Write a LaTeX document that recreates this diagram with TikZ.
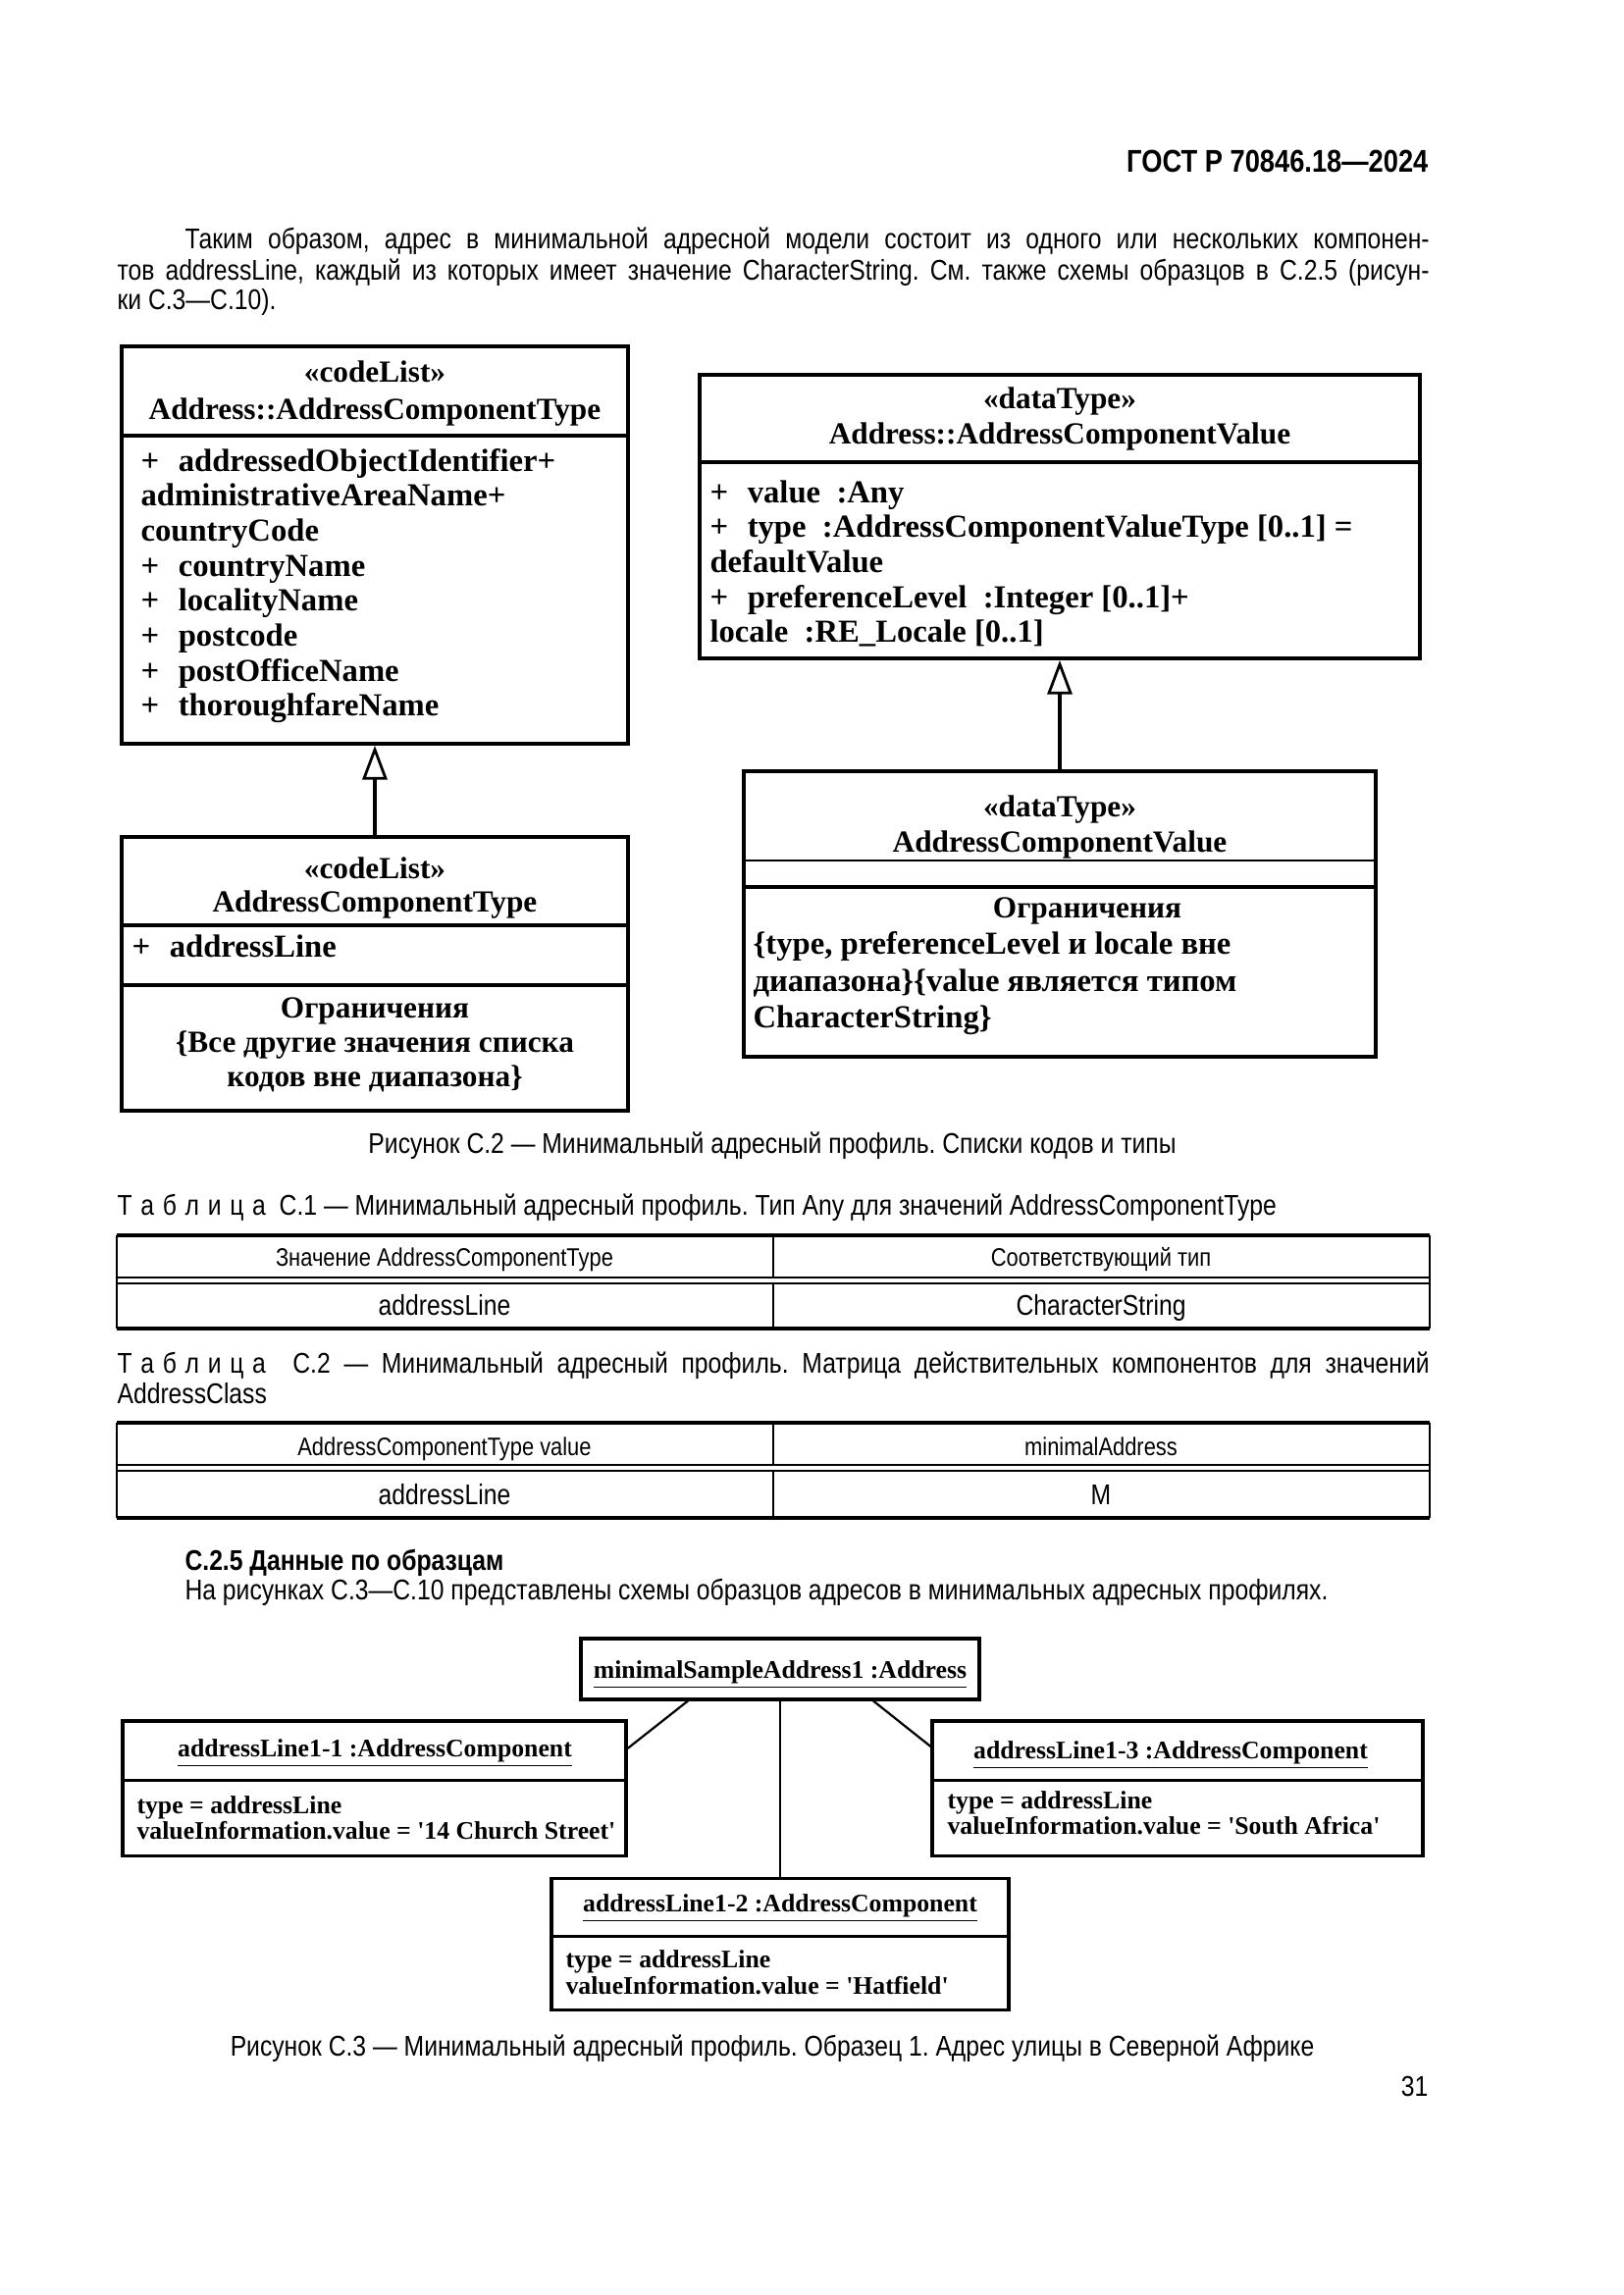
\documentclass[tikz,border=0pt]{standalone}
\usepackage{fontspec}
\setmainfont{Liberation Sans}
\newfontfamily\sansn[FakeStretch=0.85]{Liberation Sans}
\newfontfamily\umlf{Liberation Serif}
\usetikzlibrary{arrows.meta,fit}
\newcommand\ls{\kern.3em}
\frenchspacing
\begin{document}
\begin{tikzpicture}[x=0.12697mm,y=-0.12697mm,
  body/.style={inner sep=0,font=\sansn\fontsize{10.5}{11}\selectfont},
  small/.style={inner sep=0,font=\sansn\fontsize{9.3}{10}\selectfont},
  uml/.style={inner sep=0,font=\umlf\bfseries\fontsize{11.3}{12.9}\selectfont},
  umlattr/.style={inner sep=0,font=\umlf\bfseries\fontsize{11.8}{12.9}\selectfont},
  obj/.style={inner sep=0,font=\umlf\bfseries\fontsize{9.3}{9.3}\selectfont},
  bigbox/.style={draw,line width=1.4pt,inner sep=0},
  objbox/.style={draw,line width=1.1pt,inner sep=0},
  sep/.style={line width=1.1pt},
  gen/.style={line width=1.4pt,-{Triangle[open,length=4.4mm,width=3.2mm,line width=1pt]}},
  assoc/.style={line width=0.8pt},
  thickrule/.style={line width=1.1pt},
  thinrule/.style={line width=0.5pt}]
\useasboundingbox (0,0) rectangle (1654,2339);
\fill[white] (0,0) rectangle (1654,2339);

% header and paragraph
\node[body,anchor=base east,font=\sansn\bfseries\fontsize{11.6}{12}\selectfont] (hdr) at (1456,175) {ГОСТ Р 70846.18—2024};
\node[body,anchor=base west] (p1) at (188,254) {\makebox[161mm][s]{Таким образом, адрес в минимальной адресной модели состоит из одного или нескольких компонен-}};
\node[body,anchor=base west] (p2) at (119,285) {\makebox[169.76mm][s]{тов addressLine, каждый из которых имеет значение CharacterString. См. также схемы образцов в С.2.5 (рисун-}};
\node[body,anchor=base west] (p3) at (119,315) {ки С.3—С.10).};

% box 1
\node[bigbox,fit={(124,353) (640,758)}] (b1) {};
\draw[sep] (b1.west |- 0,444) -- (b1.east |- 0,444);
\node[uml,anchor=base] (b1s) at (382,389) {«codeList»};
\node[uml,anchor=base] (b1n) at (382,427) {Address::AddressComponentType};
\foreach \t [count=\i] in {{+\hspace{0.6em}addressedObjectIdentifier+},{administrativeAreaName+},{countryCode},{+\hspace{0.6em}countryName},{+\hspace{0.6em}localityName},{+\hspace{0.6em}postcode},{+\hspace{0.6em}postOfficeName},{+\hspace{0.6em}thoroughfareName}}
  \node[umlattr,anchor=base west] (b1a\i) at (143,{480+35.7*(\i-1)}) {\t};

% box 2
\node[bigbox,fit={(713,382) (1447,671)}] (b2) {};
\draw[sep] (b2.west |- 0,471) -- (b2.east |- 0,471);
\node[uml,anchor=base] (b2s) at (1080,416) {«dataType»};
\node[uml,anchor=base] (b2n) at (1080,452) {Address::AddressComponentValue};
\foreach \t [count=\i] in {{+\hspace{0.6em}value\ \ :Any},{+\hspace{0.6em}type\ \ :AddressComponentValueType [0..1] =},{defaultValue},{+\hspace{0.6em}preferenceLevel\ \ :Integer [0..1]+},{locale\ \ :RE\_Locale [0..1]}}
  \node[umlattr,anchor=base west] (b2a\i) at (723,{512+35.7*(\i-1)}) {\t};

% box 3
\node[bigbox,fit={(124,853) (640,1132)}] (b3) {};
\draw[sep] (b3.west |- 0,943) -- (b3.east |- 0,943);
\draw[sep] (b3.west |- 0,1004) -- (b3.east |- 0,1004);
\node[uml,anchor=base] (b3s) at (382,895) {«codeList»};
\node[uml,anchor=base] (b3n) at (382,929) {AddressComponentType};
\node[umlattr,anchor=base west] (b3a) at (134,975) {+\hspace{0.6em}addressLine};
\node[uml,anchor=base] (b3c1) at (382,1037) {Ограничения};
\node[uml,anchor=base] (b3c2) at (382,1072) {\{Все другие значения списка};
\node[uml,anchor=base] (b3c3) at (382,1107) {кодов вне диапазона\}};

% box 4
\node[bigbox,line width=1.1pt,fit={(758,786) (1402,1077)}] (b4) {};
\draw[line width=0.8pt] (b4.west |- 0,877) -- (b4.east |- 0,877);
\draw[line width=1.4pt] (b4.west |- 0,904) -- (b4.east |- 0,904);
\node[uml,anchor=base] (b4s) at (1080,832) {«dataType»};
\node[uml,anchor=base] (b4n) at (1080,868) {AddressComponentValue};
\node[uml,anchor=base] (b4c1) at (1108,935) {Ограничения};
\node[umlattr,anchor=base west] (b4c2) at (767,972) {\{type, preferenceLevel и locale вне};
\node[umlattr,anchor=base west] (b4c3) at (767,1010) {диапазона\}\{value является типом};
\node[umlattr,anchor=base west] (b4c4) at (767,1047) {CharacterString\}};

% generalizations
\draw[gen] (b3.north) -- (b1.south);
\draw[gen,line width=1.1pt] (b4.north) -- (b2.south);

\node[body,anchor=base] (cap2) at (787,1175) {Рисунок С.2 — Минимальный адресный профиль. Списки кодов и типы};

% table C.1
\node[body,anchor=base west] (t1t) at (119,1238) {Т\ls а\ls б\ls л\ls и\ls ц\ls а\ \ С.1 — Минимальный адресный профиль. Тип Any для значений AddressComponentType};
\draw[thickrule] (119,1259) -- (1457,1259);
\draw[thinrule] (119,1302) -- (1457,1302);
\draw[thinrule] (119,1308) -- (1457,1308);
\draw[thickrule] (119,1354) -- (1457,1354);
\draw[thinrule] (119,1259) -- (119,1354);
\draw[thinrule] (1457,1259) -- (1457,1354);
\draw[thinrule] (788,1259) -- (788,1302);
\draw[thinrule] (788,1308) -- (788,1354);
\node[small,anchor=base] (t1h1) at (453,1290) {Значение AddressComponentType};
\node[small,anchor=base] (t1h2) at (1122,1290) {Соответствующий тип};
\node[body,anchor=base] (t1r1) at (453,1340) {addressLine};
\node[body,anchor=base] (t1r2) at (1122,1340) {CharacterString};

% table C.2
\node[body,anchor=base west] (t2t) at (119,1399) {\makebox[169.76mm][s]{Т\ls а\ls б\ls л\ls и\ls ц\ls а\ \ С.2 — Минимальный адресный профиль. Матрица действительных компонентов для значений}};
\node[body,anchor=base west] (t2t2) at (119,1430) {AddressClass};
\draw[thickrule] (119,1450) -- (1457,1450);
\draw[thinrule] (119,1493) -- (1457,1493);
\draw[thinrule] (119,1499) -- (1457,1499);
\draw[thickrule] (119,1547) -- (1457,1547);
\draw[thinrule] (119,1450) -- (119,1547);
\draw[thinrule] (1457,1450) -- (1457,1547);
\draw[thinrule] (788,1450) -- (788,1493);
\draw[thinrule] (788,1499) -- (788,1547);
\node[small,anchor=base] (t2h1) at (453,1483) {AddressComponentType value};
\node[small,anchor=base] (t2h2) at (1122,1483) {minimalAddress};
\node[body,anchor=base] (t2r1) at (453,1533) {addressLine};
\node[body,anchor=base] (t2r2) at (1122,1533) {M};

% section
\node[body,anchor=base west,font=\sansn\bfseries\fontsize{10.5}{11}\selectfont] (sec) at (188,1600) {С.2.5 Данные по образцам};
\node[body,anchor=base west] (secp) at (188,1630) {На рисунках С.3—С.10 представлены схемы образцов адресов в минимальных адресных профилях.};

% object diagram
\node[objbox,fit={(592,1670) (998,1732)}] (oa) {};
\node[obj,anchor=base] (oat) at (795,1710) {\underline{minimalSampleAddress1 :Address}};

\node[objbox,fit={(125,1754) (638,1891)}] (ob) {};
\draw[sep] (ob.west |- 0,1814) -- (ob.east |- 0,1814);
\node[obj,anchor=base] (obt) at (382,1790) {\underline{addressLine1-1 :AddressComponent}};
\node[obj,anchor=base west] (ob1) at (139,1848) {type = addressLine};
\node[obj,anchor=base west] (ob2) at (139,1874) {valueInformation.value = '14 Church Street'};

\node[objbox,fit={(950,1754) (1450,1891)}] (oc) {};
\draw[sep] (oc.west |- 0,1814) -- (oc.east |- 0,1814);
\node[obj,anchor=base] (oct) at (1193,1792) {\underline{addressLine1-3 :AddressComponent}};
\node[obj,anchor=base west] (oc1) at (965,1843) {type = addressLine};
\node[obj,anchor=base west] (oc2) at (965,1869) {valueInformation.value = 'South Africa'};

\node[objbox,fit={(562,1914) (1028,2048)}] (od) {};
\draw[sep] (od.west |- 0,1973) -- (od.east |- 0,1973);
\node[obj,anchor=base] (odt) at (795,1948) {\underline{addressLine1-2 :AddressComponent}};
\node[obj,anchor=base west] (od1) at (576,2005) {type = addressLine};
\node[obj,anchor=base west] (od2) at (576,2032) {valueInformation.value = 'Hatfield'};

\draw[assoc] (oa.south -| 701,0) -- (ob.east |- 0,1782);
\draw[assoc] (oa.south) -- (od.north);
\draw[assoc] (oa.south -| 890,0) -- (oc.west |- 0,1780);

\node[body,anchor=base] (cap3) at (787,2095) {Рисунок С.3 — Минимальный адресный профиль. Образец 1. Адрес улицы в Северной Африке};
\node[body,anchor=base east] (pg) at (1456,2136) {31};
\end{tikzpicture}
\end{document}
